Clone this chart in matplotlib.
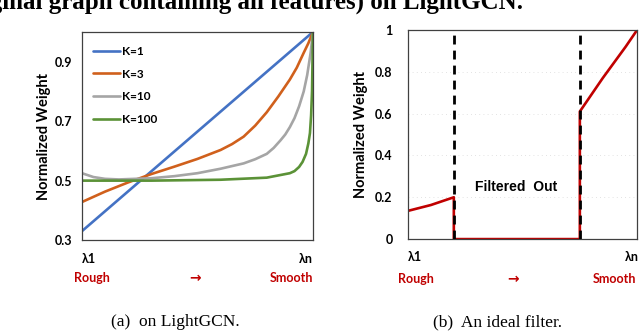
import matplotlib
matplotlib.use("Agg")
import matplotlib.pyplot as plt

# ── Data ───────────────────────────────────────────────────────────
# (a) normalized filter weight of LightGCN for several K
x_k1 = [0.0, 1.0]
w_k1 = [0.33, 1.0]

x_k3 = [0.0, 0.1, 0.2, 0.3, 0.4, 0.5, 0.6, 0.65, 0.7, 0.75, 0.8, 0.85, 0.9, 0.93, 0.96, 0.98, 1.0]
w_k3 = [0.428, 0.463, 0.494, 0.522, 0.547, 0.573, 0.603, 0.623, 0.648, 0.685, 0.73, 0.783, 0.84, 0.88, 0.93, 0.962, 1.0]

x_k10 = [0.0, 0.05, 0.1, 0.16, 0.3, 0.4, 0.5, 0.6, 0.7, 0.75, 0.8, 0.83, 0.86, 0.88, 0.9,
         0.92, 0.94, 0.96, 0.975, 0.99, 1.0]
w_k10 = [0.525, 0.512, 0.506, 0.504, 0.508, 0.515, 0.525, 0.54, 0.558, 0.572, 0.59, 0.61, 0.636, 0.655, 0.68,
         0.71, 0.75, 0.8, 0.855, 0.93, 1.0]

x_k100 = [0.0, 0.3, 0.6, 0.8, 0.9, 0.92, 0.94, 0.955, 0.97, 0.98, 0.987, 0.992, 0.996, 1.0]
w_k100 = [0.5, 0.5, 0.503, 0.51, 0.525, 0.532, 0.546, 0.563, 0.59, 0.625, 0.66, 0.72, 0.8, 1.0]

series = [
    ("K=1", x_k1, w_k1, "#4472C4"),
    ("K=3", x_k3, w_k3, "#D0601C"),
    ("K=10", x_k10, w_k10, "#A5A5A5"),
    ("K=100", x_k100, w_k100, "#5B9237"),
]

# (b) ideal filter
x_ideal = [0.0, 0.1, 0.2, 0.2, 0.75, 0.75, 0.8, 0.85, 0.9, 0.95, 1.0]
w_ideal = [0.135, 0.163, 0.2, 0.0, 0.0, 0.61, 0.69, 0.77, 0.845, 0.92, 1.0]
cut_low, cut_high = 0.2, 0.75

# ── Figure ─────────────────────────────────────────────────────────
plt.rcParams["font.family"] = ["Lato", "DejaVu Sans"]
fig = plt.figure(figsize=(6.4, 3.33), dpi=100)

ax1 = fig.add_axes([0.128, 0.279, 0.361, 0.625])
ax2 = fig.add_axes([0.6375, 0.282, 0.358, 0.628])

# (a)
for label, xs, ws, color in series:
    ax1.plot(xs, ws, color=color, lw=1.9, label=label, solid_capstyle="round")
ax1.set_xlim(0, 1)
ax1.set_ylim(0.3, 1.0)
ax1.set_yticks([0.3, 0.5, 0.7, 0.9])
ax1.set_yticklabels(["0.3", "0.5", "0.7", "0.9"])
ax1.set_xticks([])
ax1.tick_params(axis="y", length=0, pad=7, labelsize=9)
for t in ax1.get_yticklabels():
    t.set_fontweight("bold")
ax1.set_ylabel("Normalized Weight", fontsize=10.5, fontweight="bold", labelpad=3)
leg = ax1.legend(loc="upper left", frameon=False, fontsize=8.5, handlelength=2.3,
                 handletextpad=0.15, labelspacing=0.98, borderaxespad=0.0,
                 bbox_to_anchor=(0.028, 0.955))
for t in leg.get_texts():
    t.set_fontweight("bold")

# (b)
for y in [0.2, 0.4, 0.6, 0.8]:
    ax2.axhline(y, color="#D9D9D9", lw=0.6, ls=(0, (1, 4)), zorder=0)
ax2.plot(x_ideal, w_ideal, color="#C00000", lw=1.9, zorder=2)
for xc in (cut_low, cut_high):
    ax2.axvline(xc, color="black", lw=2.0, ls=(0, (3.2, 2.2)), zorder=3)
ax2.set_xlim(0, 1)
ax2.set_ylim(0, 1.0)
ax2.set_yticks([0, 0.2, 0.4, 0.6, 0.8, 1.0])
ax2.set_yticklabels(["0", "0.2", "0.4", "0.6", "0.8", "1"])
ax2.set_xticks([])
ax2.tick_params(axis="y", length=0, pad=11, labelsize=9)
for t in ax2.get_yticklabels():
    t.set_fontweight("bold")
ax2.set_ylabel("Normalized Weight", fontsize=10.5, fontweight="bold", labelpad=5)
ax2.text(0.47, 0.25, "Filtered  Out", ha="center", va="center", fontsize=10,
         fontweight="bold", family=["Liberation Sans", "DejaVu Sans"],
         transform=ax2.transAxes)

for ax in (ax1, ax2):
    for sp in ax.spines.values():
        sp.set_color("#404040")
        sp.set_linewidth(0.9)

# spectrum annotations below the axes
red = "#C00000"
notes = [
    (ax1, -0.09, -0.183, -0.035, 0.49, 1.0, 1.0, "right"),
    (ax2, -0.086, -0.19, -0.044, 0.46, 0.948, 0.996, "left"),
]
for ax, y_lam, y_dir, x_rough, x_arrow, x_lamn, x_smooth, lamn_ha in notes:
    ax.text(0.0, y_lam, "λ1", transform=ax.transAxes, ha="left", va="center",
            fontsize=9, fontweight="bold")
    ax.text(x_lamn, y_lam, "λn", transform=ax.transAxes, ha=lamn_ha, va="center",
            fontsize=9, fontweight="bold")
    ax.text(x_rough, y_dir, "Rough", transform=ax.transAxes, ha="left", va="center",
            fontsize=9, fontweight="bold", color=red)
    ax.text(x_arrow, y_dir, "→", transform=ax.transAxes, ha="center", va="center",
            fontsize=10, fontweight="bold", color=red, family=["DejaVu Sans"])
    ax.text(x_smooth, y_dir, "Smooth", transform=ax.transAxes, ha="right", va="center",
            fontsize=9, fontweight="bold", color=red)

# captions and the cut-off heading above
serif = ["Liberation Serif", "DejaVu Serif"]
fig.text(0.274, 0.033, "(a)  on LightGCN.", ha="center", va="center",
         fontsize=12.5, family=serif)
fig.text(0.778, 0.033, "(b)  An ideal filter.", ha="center", va="center",
         fontsize=12.5, family=serif)
fig.text(523 / 640, 0.973, "(original graph containing all features) on LightGCN.",
         ha="right", va="baseline", fontsize=18, fontweight="bold", family=serif)

fig.savefig("out.png", dpi=100)
